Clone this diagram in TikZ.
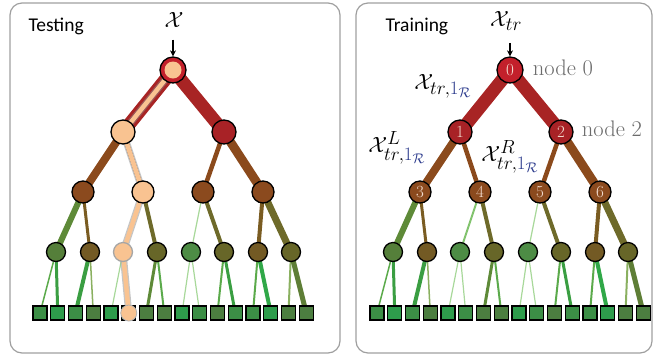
\RequirePackage{fix-cm}
\documentclass[tikz,border=0pt]{standalone}
\usepackage{amsmath}
\usepackage{fontspec}
\newfontfamily\panelfont{Carlito}
\usetikzlibrary{arrows.meta, backgrounds, positioning}
\DeclareMathSizes{22}{22}{19}{14}

% node fills
\definecolor{rootred}{HTML}{C3202B}
\definecolor{nodered}{HTML}{A82226}
\definecolor{nodebrown}{HTML}{8B4A1E}
\definecolor{mossgreen}{HTML}{557F3A}
\definecolor{mudbrown}{HTML}{735A24}
\definecolor{grassgreen}{HTML}{4D8C45}
\definecolor{olivenode}{HTML}{676628}
\definecolor{leafa}{HTML}{3C8E46}
\definecolor{leafb}{HTML}{2E9C4C}
\definecolor{leafc}{HTML}{4C7E40}
% edge colours
\definecolor{edgered}{HTML}{A82424}
\definecolor{edgebrown}{HTML}{8B4A1C}
\definecolor{olivegreen}{HTML}{5E8A38}
\definecolor{mudedge}{HTML}{7A5C22}
\definecolor{oliveedge}{HTML}{6E6A2A}
\definecolor{palegreen}{HTML}{A8D89A}
\definecolor{litegreen}{HTML}{82C36E}
\definecolor{midgreen}{HTML}{5BAA4B}
\definecolor{deepgreen}{HTML}{3A9E42}
\definecolor{brightgreen}{HTML}{30A848}
\definecolor{sagegreen}{HTML}{8AB060}
\definecolor{darkolive}{HTML}{5E7E36}
% text and highlight
\definecolor{peach}{HTML}{F9C391}
\definecolor{numcol}{HTML}{F3DCCF}
\definecolor{subblue}{HTML}{2B3A8C}
\definecolor{labelgray}{HTML}{6B6B6B}

\newcommand{\nodenum}[1]{\ifnum\shownum=1 #1\fi}
\newcommand{\oneR}{\textcolor{subblue}{1_{\mathcal{R}}}}

\begin{document}
\begin{tikzpicture}[x=1pt, y=-1pt,
    % panels and titles
    panel/.style={draw=gray!75, line width=1.2pt, rounded corners=12pt},
    title/.style={font=\panelfont\fontsize{19.5}{22}\selectfont, anchor=west},
    % tree nodes
    treenode/.style={circle, draw=black, line width=1.3pt, inner sep=0pt,
        text=numcol, font=\fontsize{17}{17}\selectfont},
    lvl0/.style={treenode, minimum size=26pt, fill=rootred},
    lvl1/.style={treenode, minimum size=24pt, fill=nodered},
    lvl2/.style={treenode, minimum size=22pt, fill=nodebrown},
    lvl3/.style={treenode, minimum size=19pt},
    leaf/.style={rectangle, draw=black, line width=1.2pt, minimum size=14pt, inner sep=0pt},
    link/.style={line cap=butt},
    % labels
    mathlbl/.style={font=\fontsize{22}{24}\selectfont, inner sep=1pt},
    grylbl/.style={font=\fontsize{22.5}{24}\selectfont, text=labelgray, anchor=west, inner sep=0pt},
    feed/.style={-{Stealth[length=6pt,width=6pt]}, line width=1.2pt, shorten <=11pt},
    % test path
    hlpath/.style={draw=peach, line width=4.5pt, line join=round},
    hlshadow/.style={draw=black!45, line width=7pt, opacity=0.5, line join=round},
    hlnode/.style={fill=peach},
    te-1/.style={hlnode},
    te-4/.style={hlnode},
    te-m3/.style={hlnode, draw=gray!70},
  ]
  \useasboundingbox (0,0) rectangle (655,360);

  \draw[panel] (10,3) rectangle (340,353);
  \draw[panel] (356,3) rectangle (652,353);
  \node[title] (testtitle) at (25,26) {Testing};
  \node[title] (traintitle) at (382,26) {Training};

  % the same tree in both panels
  \foreach \pre/\dx/\shownum in {te/0/0, tr/337/1} {
    \begin{scope}[xshift=\dx]
      \node[lvl0, \pre-0/.try] (\pre-0) at (173,70) {\nodenum{0}};
      \node[lvl1, \pre-1/.try] (\pre-1) at (123,132) {\nodenum{1}};
      \node[lvl1, \pre-2/.try] (\pre-2) at (224,132) {\nodenum{2}};
      \foreach \i/\x in {3/83, 4/143, 5/203, 6/263}
        \node[lvl2, \pre-\i/.try] (\pre-\i) at (\x,192) {\nodenum{\i}};
      \foreach \i/\x/\c in {1/56/mossgreen, 2/90/mudbrown, 3/123/grassgreen, 4/157/olivenode,
                           5/191/grassgreen, 6/224/olivenode, 7/258/mudbrown, 8/291/olivenode}
        \node[lvl3, fill=\c, \pre-m\i/.try] (\pre-m\i) at (\x,252) {};
      \foreach \c [count=\i] in {leafa, leafb, leafa, leafc, leafb, leafa, leafc, leafc,
                                 leafb, leafa, leafc, leafa, leafa, leafb, leafc, leafc}
        \node[leaf, fill=\c] (\pre-f\i) at ({40+17.75*(\i-1)},313) {};
    \end{scope}
    \begin{scope}[on background layer]
      \foreach \a/\b/\w/\c in {0/1/13/edgered, 0/2/13/edgered,
          1/3/8/edgebrown, 1/4/4.5/edgebrown, 2/5/4.5/edgebrown, 2/6/9/edgebrown,
          3/m1/6/olivegreen, 3/m2/3/mudedge, 4/m3/2/litegreen, 4/m4/4/oliveedge,
          5/m5/1.2/palegreen, 5/m6/4/oliveedge, 6/m7/4/mudedge, 6/m8/7/oliveedge,
          m1/f1/1.5/midgreen, m1/f2/3/deepgreen, m2/f3/4/deepgreen, m2/f4/1.5/sagegreen,
          m3/f5/1.2/palegreen, m3/f6/1.2/palegreen, m4/f7/3/olivegreen, m4/f8/2/midgreen,
          m5/f9/1.2/palegreen, m5/f10/1.2/palegreen, m6/f11/2/midgreen, m6/f12/3/deepgreen,
          m7/f13/2/midgreen, m7/f14/4/brightgreen, m8/f15/2/sagegreen, m8/f16/5/darkolive}
        \draw[link, draw=\c, line width=\w] (\pre-\a.center) -- (\pre-\b.center);
    \end{scope}
  }

  % path of the test sample
  \begin{scope}[on background layer]
    \draw[hlshadow] (te-0.center) -- (te-1.center) -- (te-4.center) -- (te-m3.center) -- (te-f6.center);
    \draw[hlpath] (te-0.center) -- (te-1.center) -- (te-4.center) -- (te-m3.center) -- (te-f6.center);
  \end{scope}
  \fill[peach] (te-0.center) circle[radius=8.5];
  \draw[fill=peach, draw=gray!60, line width=0.8pt] (te-f6.center) circle[radius=8];

  % inputs
  \node[mathlbl] (tein) at (174,20) {$\mathcal{X}$};
  \draw[feed] (tein.south -| te-0.north) -- (te-0.north);
  \node[mathlbl] (trin) at (506,21) {$\mathcal{X}_{tr}$};
  \draw[feed] (trin.south -| tr-0.north) -- (tr-0.north);

  % training labels
  \node[mathlbl] (xone) at (443,86) {$\mathcal{X}_{tr,\oneR}$};
  \node[mathlbl] (xleft) at (397,148) {$\mathcal{X}^{L}_{tr,\oneR}$};
  \node[mathlbl] (xright) at (510,157) {$\mathcal{X}^{R}_{tr,\oneR}$};
  \node[grylbl, right=9pt of tr-0, yshift=2pt] (name0) {node 0};
  \node[grylbl, right=8pt of tr-2, yshift=3pt] (name2) {node 2};
\end{tikzpicture}
\end{document}
